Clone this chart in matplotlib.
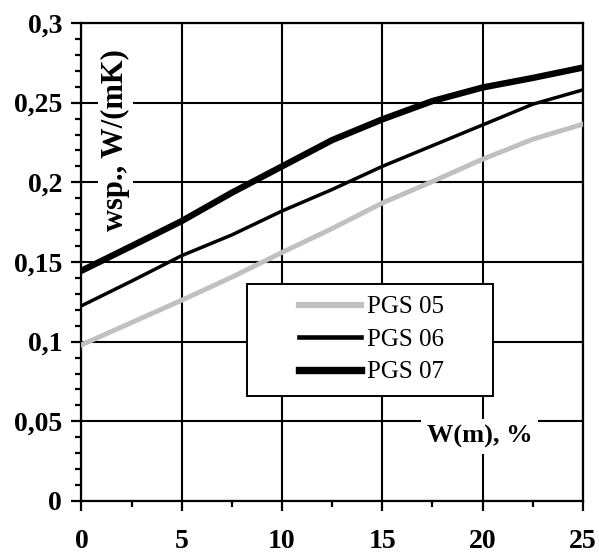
import numpy as np
import matplotlib.pyplot as plt
from matplotlib.patches import Rectangle
from matplotlib.ticker import MultipleLocator, FuncFormatter

plt.rcParams['font.family'] = 'Liberation Serif'

# wilgotnosc W(m), %
w = [0, 2.5, 5, 7.5, 10, 12.5, 15, 17.5, 20, 22.5, 25]
# wspolczynnik przewodzenia ciepla, W/(mK)
pgs05 = [0.098, 0.112, 0.126, 0.1405, 0.156, 0.171, 0.187, 0.2005, 0.2145, 0.227, 0.2365]
pgs06 = [0.1225, 0.138, 0.154, 0.167, 0.182, 0.1955, 0.21, 0.223, 0.236, 0.249, 0.258]
pgs07 = [0.1445, 0.16, 0.1757, 0.1935, 0.21, 0.2265, 0.2395, 0.251, 0.2595, 0.2655, 0.272]
nazwy = ['PGS 05', 'PGS 06', 'PGS 07']

fig = plt.figure(figsize=(5.99, 5.55), dpi=100)
ax = fig.add_axes([0.136, 0.0973, 0.837, 0.8613])

ax.plot(w, pgs05, color='#c0c0c0', lw=3.5, label=nazwy[0], zorder=3)
ax.plot(w, pgs06, color='black', lw=2.5, label=nazwy[1], zorder=3)
ax.plot(w, pgs07, color='black', lw=4.6, label=nazwy[2], zorder=3)

ax.set_xlim(0, 25)
ax.set_ylim(0, 0.3)
ax.xaxis.set_major_locator(MultipleLocator(5))
ax.xaxis.set_minor_locator(MultipleLocator(2.5))
ax.yaxis.set_major_locator(MultipleLocator(0.05))
ax.yaxis.set_minor_locator(MultipleLocator(0.01))
ax.yaxis.set_major_formatter(FuncFormatter(lambda v, p: ('%g' % round(v, 3)).replace('.', ',')))
ax.grid(True, which='major', color='black', lw=1.5, zorder=1)
for s in ax.spines.values():
    s.set_linewidth(1.6)

ax.tick_params(which='major', direction='out', length=7, width=1.6, labelsize=20)
ax.tick_params(which='minor', direction='out', length=4, width=1.6)
ax.tick_params(axis='x', which='major', pad=13)
ax.tick_params(axis='y', which='major', pad=7)
for t in ax.get_xticklabels() + ax.get_yticklabels():
    t.set_fontweight('bold')

ax.text(1.7, 0.2264, 'wsp., W/(mK)', rotation=90, ha='center', va='center',
        fontsize=22, fontweight='bold', zorder=4,
        bbox=dict(facecolor='white', edgecolor='none', pad=2))
ax.text(19.85, 0.0405, 'W(m), %', ha='center', va='center',
        fontsize=19, fontweight='bold', zorder=4,
        bbox=dict(facecolor='white', edgecolor='none', pad=4))

ax.add_patch(Rectangle((0.33, 0.2197), 0.4905, 0.2343, transform=ax.transAxes,
                       facecolor='white', edgecolor='black', lw=1.4, zorder=4))
leg = ax.legend(loc='center left', bbox_to_anchor=(0.4343, 0.3375), frameon=False,
                fontsize=18, handlelength=2.48, handletextpad=0.24,
                labelspacing=0.4, borderpad=0, borderaxespad=0)
leg.set_zorder(5)
for ln, lw in zip(leg.get_lines(), [4.5, 3.3, 5.3]):
    ln.set_linewidth(lw)

fig.savefig('out.png', dpi=100)
